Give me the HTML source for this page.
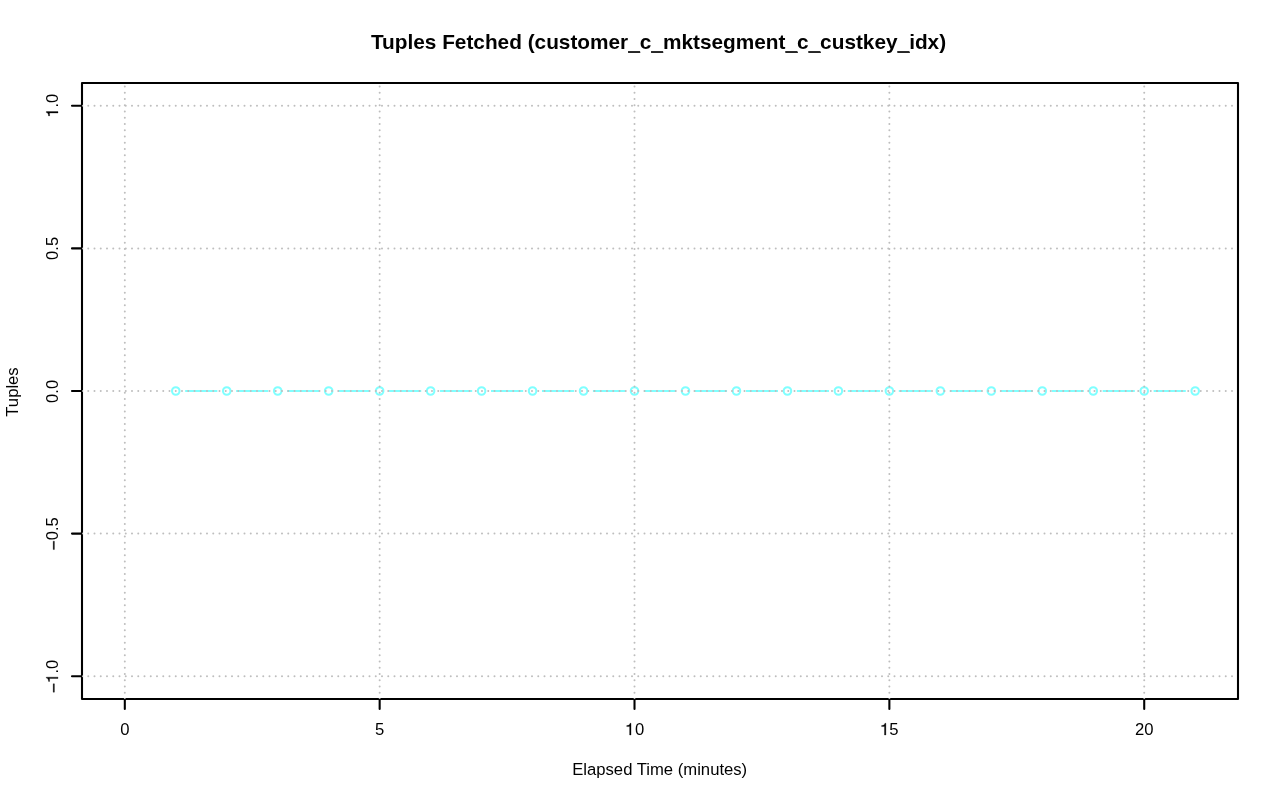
<!DOCTYPE html>
<html><head><meta charset="utf-8"><title>Tuples Fetched</title>
<style>
html,body{margin:0;padding:0;background:#fff;}
body{width:1280px;height:801px;overflow:hidden;}
svg{display:block;}
text{font-family:"Liberation Sans",sans-serif;fill:#000;}
</style></head><body>
<svg width="1280" height="801" viewBox="0 0 1280 801">
<rect x="0" y="0" width="1280" height="801" fill="#fff"/>
<defs><clipPath id="pc"><rect x="82" y="83" width="1156" height="616"/></clipPath></defs>
<g stroke="#80ffff" fill="none">
<line x1="185.18" y1="391.00" x2="217.35" y2="391.00" stroke-width="2.08"/>
<line x1="236.15" y1="391.00" x2="268.32" y2="391.00" stroke-width="2.08"/>
<line x1="287.12" y1="391.00" x2="319.29" y2="391.00" stroke-width="2.08"/>
<line x1="338.09" y1="391.00" x2="370.26" y2="391.00" stroke-width="2.08"/>
<line x1="389.06" y1="391.00" x2="421.23" y2="391.00" stroke-width="2.08"/>
<line x1="440.03" y1="391.00" x2="472.20" y2="391.00" stroke-width="2.08"/>
<line x1="491.00" y1="391.00" x2="523.17" y2="391.00" stroke-width="2.08"/>
<line x1="541.97" y1="391.00" x2="574.14" y2="391.00" stroke-width="2.08"/>
<line x1="592.94" y1="391.00" x2="625.11" y2="391.00" stroke-width="2.08"/>
<line x1="643.91" y1="391.00" x2="676.09" y2="391.00" stroke-width="2.08"/>
<line x1="694.89" y1="391.00" x2="727.06" y2="391.00" stroke-width="2.08"/>
<line x1="745.86" y1="391.00" x2="778.03" y2="391.00" stroke-width="2.08"/>
<line x1="796.83" y1="391.00" x2="829.00" y2="391.00" stroke-width="2.08"/>
<line x1="847.80" y1="391.00" x2="879.97" y2="391.00" stroke-width="2.08"/>
<line x1="898.77" y1="391.00" x2="930.94" y2="391.00" stroke-width="2.08"/>
<line x1="949.74" y1="391.00" x2="981.91" y2="391.00" stroke-width="2.08"/>
<line x1="1000.71" y1="391.00" x2="1032.88" y2="391.00" stroke-width="2.08"/>
<line x1="1051.68" y1="391.00" x2="1083.85" y2="391.00" stroke-width="2.08"/>
<line x1="1102.65" y1="391.00" x2="1134.82" y2="391.00" stroke-width="2.08"/>
<line x1="1153.62" y1="391.00" x2="1185.79" y2="391.00" stroke-width="2.08"/>
<circle cx="175.78" cy="391.00" r="3.75" stroke-width="2.08"/>
<circle cx="226.75" cy="391.00" r="3.75" stroke-width="2.08"/>
<circle cx="277.72" cy="391.00" r="3.75" stroke-width="2.08"/>
<circle cx="328.69" cy="391.00" r="3.75" stroke-width="2.08"/>
<circle cx="379.66" cy="391.00" r="3.75" stroke-width="2.08"/>
<circle cx="430.63" cy="391.00" r="3.75" stroke-width="2.08"/>
<circle cx="481.60" cy="391.00" r="3.75" stroke-width="2.08"/>
<circle cx="532.57" cy="391.00" r="3.75" stroke-width="2.08"/>
<circle cx="583.54" cy="391.00" r="3.75" stroke-width="2.08"/>
<circle cx="634.51" cy="391.00" r="3.75" stroke-width="2.08"/>
<circle cx="685.49" cy="391.00" r="3.75" stroke-width="2.08"/>
<circle cx="736.46" cy="391.00" r="3.75" stroke-width="2.08"/>
<circle cx="787.43" cy="391.00" r="3.75" stroke-width="2.08"/>
<circle cx="838.40" cy="391.00" r="3.75" stroke-width="2.08"/>
<circle cx="889.37" cy="391.00" r="3.75" stroke-width="2.08"/>
<circle cx="940.34" cy="391.00" r="3.75" stroke-width="2.08"/>
<circle cx="991.31" cy="391.00" r="3.75" stroke-width="2.08"/>
<circle cx="1042.28" cy="391.00" r="3.75" stroke-width="2.08"/>
<circle cx="1093.25" cy="391.00" r="3.75" stroke-width="2.08"/>
<circle cx="1144.22" cy="391.00" r="3.75" stroke-width="2.08"/>
<circle cx="1195.19" cy="391.00" r="3.75" stroke-width="2.08"/>
</g>
<g stroke="#000" stroke-width="2.08" fill="none" stroke-linecap="round" stroke-linejoin="round">
<rect x="82" y="83" width="1156" height="616"/>
<line x1="124.81" y1="699" x2="1144.22" y2="699"/>
<line x1="124.81" y1="699" x2="124.81" y2="709"/>
<line x1="379.66" y1="699" x2="379.66" y2="709"/>
<line x1="634.51" y1="699" x2="634.51" y2="709"/>
<line x1="889.37" y1="699" x2="889.37" y2="709"/>
<line x1="1144.22" y1="699" x2="1144.22" y2="709"/>
<line x1="82" y1="676.19" x2="72" y2="676.19"/>
<line x1="82" y1="533.59" x2="72" y2="533.59"/>
<line x1="82" y1="391.00" x2="72" y2="391.00"/>
<line x1="82" y1="248.41" x2="72" y2="248.41"/>
<line x1="82" y1="105.81" x2="72" y2="105.81"/>
</g>
<g stroke="#bebebe" stroke-width="2" stroke-dasharray="0 6.25" stroke-linecap="round" fill="none" clip-path="url(#pc)">
<line x1="124.81" y1="699" x2="124.81" y2="83"/>
<line x1="379.66" y1="699" x2="379.66" y2="83"/>
<line x1="634.51" y1="699" x2="634.51" y2="83"/>
<line x1="889.37" y1="699" x2="889.37" y2="83"/>
<line x1="1144.22" y1="699" x2="1144.22" y2="83"/>
<line x1="82" y1="676.19" x2="1238" y2="676.19"/>
<line x1="82" y1="533.59" x2="1238" y2="533.59"/>
<line x1="82" y1="391.00" x2="1238" y2="391.00"/>
<line x1="82" y1="248.41" x2="1238" y2="248.41"/>
<line x1="82" y1="105.81" x2="1238" y2="105.81"/>
</g>
<g opacity="0.999">
<g transform="translate(124.81,735.00)"><text x="-4.63" y="0" font-size="16.67">0</text></g>
<g transform="translate(379.66,735.00)"><text x="-4.63" y="0" font-size="16.67">5</text></g>
<g transform="translate(634.51,735.00)"><path transform="translate(-9.47,0) scale(0.01667)" d="M359 0H275V-505H101V-565Q215 -574 256 -612Q290 -644 303 -703H359Z" fill="#000" stroke="#000" stroke-width="18"/><text x="0.50" y="0" font-size="16.67">0</text></g>
<g transform="translate(889.37,735.00)"><path transform="translate(-9.47,0) scale(0.01667)" d="M359 0H275V-505H101V-565Q215 -574 256 -612Q290 -644 303 -703H359Z" fill="#000" stroke="#000" stroke-width="18"/><text x="0.00" y="0" font-size="16.67">5</text></g>
<g transform="translate(1144.22,735.00)"><text x="-9.27" y="0" font-size="16.67">20</text></g>
<g transform="translate(58.00,676.19) rotate(-90)"><path transform="translate(-16.65,0) scale(0.01667)" d="M39 -216H545V-289H39Z" fill="#000" stroke="#000" stroke-width="18"/><path transform="translate(-6.92,0) scale(0.01667)" d="M359 0H275V-505H101V-565Q215 -574 256 -612Q290 -644 303 -703H359Z" fill="#000" stroke="#000" stroke-width="18"/><text x="2.65" y="0" font-size="16.67">.0</text></g>
<g transform="translate(58.00,533.59) rotate(-90)"><path transform="translate(-16.65,0) scale(0.01667)" d="M39 -216H545V-289H39Z" fill="#000" stroke="#000" stroke-width="18"/><text x="-6.72" y="0" font-size="16.67">0.5</text></g>
<g transform="translate(58.00,391.00) rotate(-90)"><text x="-11.99" y="0" font-size="16.67">0.0</text></g>
<g transform="translate(58.00,248.41) rotate(-90)"><text x="-11.59" y="0" font-size="16.67">0.5</text></g>
<g transform="translate(58.00,105.81) rotate(-90)"><path transform="translate(-11.79,0) scale(0.01667)" d="M359 0H275V-505H101V-565Q215 -574 256 -612Q290 -644 303 -703H359Z" fill="#000" stroke="#000" stroke-width="18"/><text x="-1.82" y="0" font-size="16.67">.0</text></g>
<text x="659.7" y="775" font-size="16.67" text-anchor="middle">Elapsed Time (minutes)</text>
<text transform="translate(18,392) rotate(-90)" font-size="16.67" text-anchor="middle">Tuples</text>
<text x="658.5" y="49" font-size="20.8" font-weight="bold" text-anchor="middle">Tuples Fetched (customer_c_mktsegment_c_custkey_idx)</text>
<rect x="628.05" y="51.7" width="12.25" height="1.15" fill="#000"/>
<rect x="651.05" y="51.7" width="12.25" height="1.15" fill="#000"/>
<rect x="785.3" y="51.7" width="12.60" height="1.15" fill="#000"/>
<rect x="808.3" y="51.7" width="12.60" height="1.15" fill="#000"/>
<rect x="897.3" y="51.7" width="12.60" height="1.15" fill="#000"/>
</g>
</svg>
</body></html>
